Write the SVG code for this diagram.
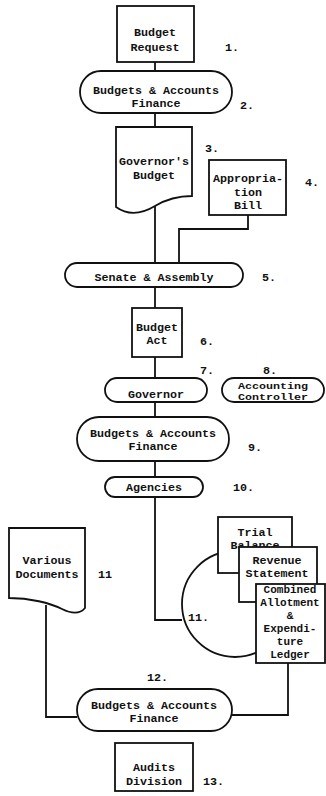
<svg xmlns="http://www.w3.org/2000/svg" width="326" height="796" viewBox="0 0 326 796">
<style>
.s{fill:#fff;stroke:#111;stroke-width:1.8}
.c{fill:none;stroke:#111;stroke-width:1.8}
text{font-family:"Liberation Mono","DejaVu Sans Mono",monospace;font-size:11.7px;font-weight:bold;fill:#111}
.m{text-anchor:middle}
.sm{font-size:9px}
.cb{font-size:11px}
</style>
<rect width="326" height="796" fill="#fff"/>
<g id="connectors">
<path class="c" d="M155,62V71"/>
<path class="c" d="M155,113V127"/>
<path class="c" d="M155,205V263"/>
<path class="c" d="M248,215V229H179V263"/>
<path class="c" d="M155,287V308"/>
<path class="c" d="M155,357V378"/>
<path class="c" d="M155,402V417"/>
<path class="c" d="M155,461V477"/>
<path class="c" d="M155,497V620H182"/>
<path class="c" d="M46,605V717H77"/>
<path class="c" d="M288,663V715H230"/>
</g>
<g id="n1"><rect class="s" x="117" y="6" width="77" height="56"/><text class="m" x="155" y="36">Budget</text><text class="m" x="155" y="51">Request</text><text x="225" y="51">1.</text></g>
<g id="n2"><rect class="s" x="80" y="71" width="152" height="42" rx="21"/><text class="m" x="156" y="94">Budgets &amp; Accounts</text><text class="m" x="156" y="107">Finance</text><text x="240" y="109">2.</text></g>
<g id="n3"><path class="s" d="M116,127H192V196C175,196 165,200 155,206C145,212 130,217 116,207Z"/><text class="m" x="154" y="165">Governor's</text><text class="m" x="154" y="179">Budget</text><text x="205" y="152">3.</text></g>
<g id="n4"><rect class="s" x="209" y="160" width="77" height="55"/><text class="m" x="248" y="182">Appropria-</text><text class="m" x="248" y="196">tion</text><text class="m" x="248" y="209">Bill</text><text x="305" y="186">4.</text></g>
<g id="n5"><rect class="s" x="65" y="263" width="178" height="24" rx="12"/><text class="m" x="154" y="281">Senate &amp; Assembly</text><text x="262" y="281">5.</text></g>
<g id="n6"><rect class="s" x="132" y="308" width="50" height="49"/><text class="m" x="157" y="331">Budget</text><text class="m" x="157" y="344">Act</text><text x="200" y="345">6.</text></g>
<g id="n7"><rect class="s" x="105" y="378" width="102" height="24" rx="12"/><text class="m" x="156" y="398">Governor</text><text x="200" y="374">7.</text></g>
<g id="n8"><rect class="s" x="222" y="378" width="102" height="24" rx="12"/><text class="m sm" x="273" y="389" textLength="70" lengthAdjust="spacingAndGlyphs">Accounting</text><text class="m sm" x="273" y="399.5" textLength="70" lengthAdjust="spacingAndGlyphs">Controller</text><text x="263" y="374">8.</text></g>
<g id="n9"><rect class="s" x="77" y="417" width="152" height="44" rx="22"/><text class="m" x="153" y="437">Budgets &amp; Accounts</text><text class="m" x="153" y="450">Finance</text><text x="248" y="451">9.</text></g>
<g id="n10"><rect class="s" x="105" y="477" width="98" height="20" rx="10"/><text class="m" x="154" y="491">Agencies</text><text x="233" y="491">10.</text></g>
<g id="n11a"><path class="s" d="M9,528H85V608C80,614 72,614 62,609C50,603 30,598 9,598Z"/><text class="m" x="47" y="564">Various</text><text class="m" x="47" y="578">Documents</text><text x="98" y="578">11</text></g>
<g id="n11b"><circle class="s" cx="235" cy="604" r="53"/><text x="188" y="621">11.</text></g>
<g id="n11c"><rect class="s" x="218" y="517" width="74" height="56"/><text class="m" x="255" y="536">Trial</text><text class="m" x="255" y="549">Balance</text></g>
<g id="n11d"><rect class="s" x="239" y="547" width="78" height="55"/><text class="m" x="277" y="564">Revenue</text><text class="m" x="277" y="577">Statement</text></g>
<g id="n11e"><rect class="s" x="256" y="584" width="69" height="79"/><text class="m cb" x="290" y="593">Combined</text><text class="m cb" x="290" y="606">Allotment</text><text class="m cb" x="290" y="619">&amp;</text><text class="m cb" x="290" y="632">Expendi-</text><text class="m cb" x="290" y="645">ture</text><text class="m cb" x="290" y="658">Ledger</text></g>
<g id="n12"><rect class="s" x="77" y="689" width="155" height="42" rx="21"/><text class="m" x="154" y="709">Budgets &amp; Accounts</text><text class="m" x="154" y="722">Finance</text><text x="147" y="681">12.</text></g>
<g id="n13"><rect class="s" x="115" y="743" width="78" height="48"/><text class="m" x="154" y="771">Audits</text><text class="m" x="154" y="785">Division</text><text x="203" y="785">13.</text></g>
</svg>
